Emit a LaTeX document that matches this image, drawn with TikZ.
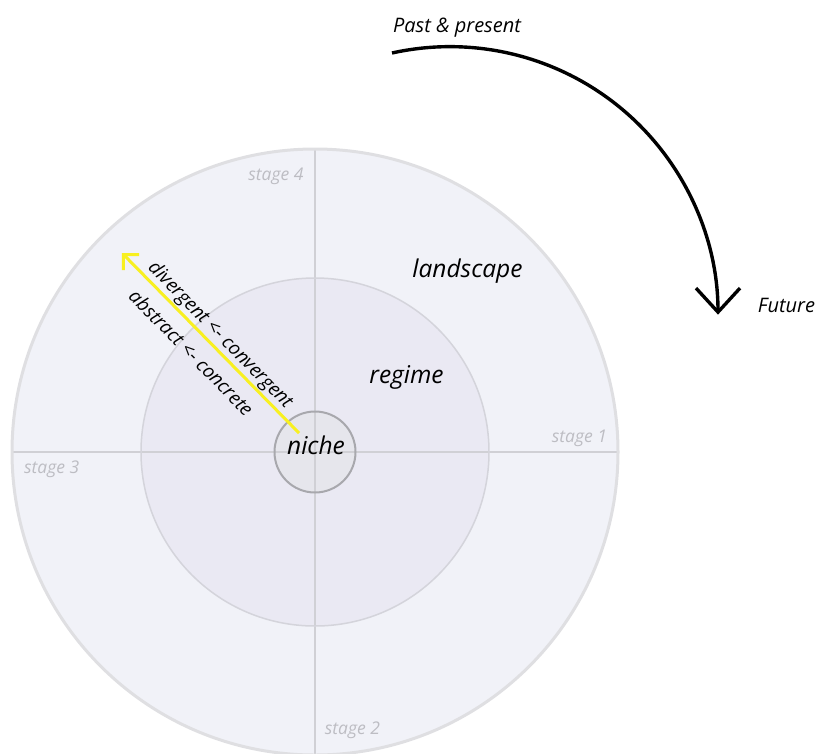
\documentclass[tikz,border=0pt]{standalone}
\usepackage{fontspec}
\setmainfont{Open Sans}
\usetikzlibrary{arrows.meta}
\definecolor{outerfill}{HTML}{F1F2F8}
\definecolor{outerline}{HTML}{DFDFE2}
\definecolor{midfill}{HTML}{EAE9F3}
\definecolor{midline}{HTML}{D4D4DB}
\definecolor{nichefill}{HTML}{E6E6EC}
\definecolor{nicheline}{HTML}{A8A8AD}
\definecolor{crossline}{HTML}{D0D0D5}
\definecolor{stagegray}{HTML}{BDBDC3}
\definecolor{arrowyellow}{HTML}{F8F020}
\tikzset{
  lbl/.style={font=\fontsize{24.5}{28}\selectfont\itshape, inner sep=0pt, anchor=base},
  stagelbl/.style={font=\fontsize{17.5}{20}\selectfont\itshape, text=stagegray, inner sep=0pt, anchor=base},
  timelbl/.style={font=\fontsize{20}{24}\selectfont\itshape, inner sep=0pt, anchor=base},
  rotlbl/.style={font=\fontsize{19}{22}\selectfont\itshape, inner sep=0pt, rotate=-45.5},
  yarrow/.style={draw=arrowyellow, line width=3pt, -{Straight Barb[length=11pt,width=22pt]}},
  tarrow/.style={draw=black, line width=3.4pt, -{Straight Barb[length=24pt,width=44pt]}}
}
\begin{document}
\begin{tikzpicture}[x=1pt,y=-1pt]
\useasboundingbox (0,0) rectangle (819,753);
\coordinate (C) at (315,452);
% fills
\fill[outerfill] (C) circle[radius=303];
\fill[midfill] (C) circle[radius=174];
\fill[nichefill] (C) circle[radius=40.5];
% cross lines
\coordinate (L) at (12,452);
\coordinate (R) at (618,452);
\coordinate (T) at (315,149);
\coordinate (B) at (315,755);
\draw[crossline, line width=1.5pt] (L) -- (R);
\draw[crossline, line width=1.5pt] (T) -- (B);
% borders
\draw[outerline, line width=3pt] (C) circle[radius=303];
\draw[midline, line width=1.5pt] (C) circle[radius=174];
\draw[nicheline, line width=2pt] (C) circle[radius=40.5];
% labels
\node[lbl] (landscape) at (467.5,277) {landscape};
\node[lbl] (regime) at (406.5,383.5) {regime};
\node[lbl] (niche) at (316,454) {niche};
\node[stagelbl] (s1) at (579.5,442.7) {stage 1};
\node[stagelbl] (s2) at (352.5,734.3) {stage 2};
\node[stagelbl] (s3) at (51.7,473.3) {stage 3};
\node[stagelbl] (s4) at (276,180.7) {stage 4};
% yellow arrow
\coordinate (ys) at (299,433);
\coordinate (ye) at (122,253);
\draw[yarrow] (ys) -- (ye);
\node[rotlbl] (div) at (220,335.5) {divergent <- convergent};
\node[rotlbl] (abs) at (191.5,352.5) {abstract <- concrete};
% time arrow
\coordinate (tc) at (450,315);
\coordinate (ts) at (392,53);
\draw[tarrow] (ts) arc[start angle=-102.5, end angle=0, radius=268];
\node[timelbl] (past) at (457,32) {Past \& present};
\node[timelbl] (future) at (786.5,312) {Future};
\end{tikzpicture}
\end{document}
